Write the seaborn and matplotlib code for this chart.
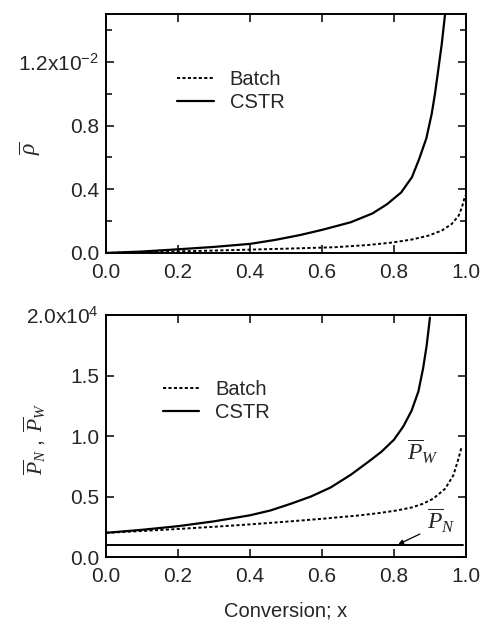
import pandas as pd
import matplotlib
matplotlib.use("Agg")
import matplotlib.pyplot as plt
import seaborn as sns
from matplotlib.ticker import MultipleLocator, FixedLocator, FixedFormatter

# --- values (rho in units of 1e-2, P in units of 1e4) ---
x_rho_cstr = [0.0, 0.1, 0.2, 0.3, 0.4, 0.47, 0.54, 0.6, 0.68, 0.74, 0.78, 0.82, 0.85,
              0.87, 0.89, 0.905, 0.914, 0.923, 0.933, 0.942]
rho_cstr = [0.0, 0.009, 0.023, 0.038, 0.057, 0.082, 0.113, 0.145, 0.193, 0.248, 0.305,
            0.38, 0.476, 0.59, 0.72, 0.875, 1.0, 1.148, 1.316, 1.5]

x_rho_batch = [0.0, 0.1, 0.2, 0.3, 0.4, 0.5, 0.635, 0.728, 0.793, 0.849, 0.896, 0.933,
               0.961, 0.98, 0.989, 0.998]
rho_batch = [0.0, 0.005, 0.01, 0.015, 0.021, 0.027, 0.036, 0.05, 0.065, 0.084, 0.109,
             0.141, 0.183, 0.235, 0.288, 0.361]

x_pw_cstr = [0.0, 0.1, 0.2, 0.3, 0.4, 0.457, 0.513, 0.569, 0.624, 0.68, 0.73, 0.765,
             0.8, 0.826, 0.849, 0.868, 0.881, 0.891, 0.9]
pw_cstr = [0.2, 0.225, 0.255, 0.295, 0.345, 0.385, 0.44, 0.5, 0.575, 0.68, 0.79, 0.87,
           0.97, 1.08, 1.21, 1.37, 1.56, 1.75, 1.98]

x_pw_batch = [0.0, 0.1, 0.2, 0.3, 0.4, 0.5, 0.6, 0.7, 0.76, 0.808, 0.85, 0.88,
              0.909, 0.942, 0.965, 0.979, 0.988]
pw_batch = [0.2, 0.215, 0.232, 0.25, 0.27, 0.292, 0.316, 0.343, 0.364, 0.385, 0.41,
            0.44, 0.482, 0.564, 0.675, 0.81, 0.91]

x_pn = [0.0, 0.992]
pn = [0.1, 0.1]

rho_ticks = [0.0, 0.4, 0.8, 1.2]
rho_labels = ["0.0", "0.4", "0.8", "1.2x10$^{-2}$"]
p_ticks = [0.0, 0.5, 1.0, 1.5, 2.0]
p_labels = ["0.0", "0.5", "1.0", "1.5", "2.0x10$^{4}$"]
x_ticks = [0.0, 0.2, 0.4, 0.6, 0.8, 1.0]

sns.set_style("ticks")
plt.rcParams["font.family"] = ["Liberation Sans", "DejaVu Sans"]
plt.rcParams["mathtext.fontset"] = "custom"
plt.rcParams["mathtext.rm"] = "Liberation Sans"
plt.rcParams["mathtext.it"] = "Liberation Serif:italic"

tick_fs = 15
text_fs = 14.5
dotted = (0, (1.6, 1.2))

fig = plt.figure(figsize=(4.89, 6.2), dpi=100)
ax1 = fig.add_axes([0.2168, 0.592, 0.736, 0.385])
ax2 = fig.add_axes([0.2168, 0.1016, 0.736, 0.390])

# top panel: rho
df_b = pd.DataFrame({"x": x_rho_batch, "y": rho_batch})
df_c = pd.DataFrame({"x": x_rho_cstr, "y": rho_cstr})
sns.lineplot(data=df_b, x="x", y="y", ax=ax1, color="black", lw=1.4, linestyle=dotted,
             label="Batch", sort=False)
sns.lineplot(data=df_c, x="x", y="y", ax=ax1, color="black", lw=1.6, label="CSTR", sort=False)
ax1.set_ylim(0, 1.5)
ax1.yaxis.set_major_locator(FixedLocator(rho_ticks))
ax1.yaxis.set_major_formatter(FixedFormatter(rho_labels))
ax1.yaxis.set_minor_locator(MultipleLocator(0.2))
ax1.set_xlabel("")
ax1.set_ylabel(r"$\overline{\rho}$", fontsize=17)
ax1.yaxis.label.set_va("center")
ax1.yaxis.set_label_coords(-0.211, 0.44)

# bottom panel: P_N, P_W
df_pb = pd.DataFrame({"x": x_pw_batch, "y": pw_batch})
df_pc = pd.DataFrame({"x": x_pw_cstr, "y": pw_cstr})
df_pn = pd.DataFrame({"x": x_pn, "y": pn})
sns.lineplot(data=df_pb, x="x", y="y", ax=ax2, color="black", lw=1.4, linestyle=dotted,
             label="Batch", sort=False)
sns.lineplot(data=df_pc, x="x", y="y", ax=ax2, color="black", lw=1.6, label="CSTR", sort=False)
sns.lineplot(data=df_pn, x="x", y="y", ax=ax2, color="black", lw=1.4, sort=False)
ax2.set_ylim(0, 2.0)
ax2.yaxis.set_major_locator(FixedLocator(p_ticks))
ax2.yaxis.set_major_formatter(FixedFormatter(p_labels))
ax2.set_ylabel(r"$\overline{P}_N\ ,\ \overline{P}_W$", fontsize=15.5)
ax2.yaxis.label.set_va("center")
ax2.yaxis.set_label_coords(-0.199, 0.49)
ax2.set_xlabel("Conversion; x", fontsize=text_fs)
ax2.xaxis.label.set_va("center")
ax2.xaxis.set_label_coords(0.5, -0.225)

ax2.text(0.881, 0.868, r"$\overline{P}_W$", fontsize=17, ha="center", va="center")
ax2.text(0.932, 0.30, r"$\overline{P}_N$", fontsize=17, ha="center", va="center")
ax2.annotate("", xy=(0.812, 0.105), xytext=(0.872, 0.19),
             arrowprops=dict(arrowstyle="-|>", color="black", lw=0.9,
                             mutation_scale=7, shrinkA=0, shrinkB=0))

for ax, leg_pos in ((ax1, (0.17, 0.81)), (ax2, (0.13, 0.773))):
    ax.set_xlim(0, 1.0)
    ax.set_xticks(x_ticks)
    ax.set_xticklabels([f"{t:.1f}" for t in x_ticks])
    ax.tick_params(axis="both", which="both", direction="in", top=True, right=True,
                   labelsize=tick_fs, width=1.1, color="black")
    ax.tick_params(axis="both", which="major", length=6)
    ax.tick_params(axis="x", which="major", pad=7)
    ax.tick_params(axis="y", which="major", pad=5)
    ax.tick_params(axis="both", which="minor", length=4.5)
    for sp in ax.spines.values():
        sp.set_linewidth(1.4)
        sp.set_color("black")
    ax.legend(loc="upper left", bbox_to_anchor=leg_pos, frameon=False, fontsize=text_fs,
              handlelength=1.8, handletextpad=0.8, labelspacing=0.2, borderpad=0)

fig.savefig("out.png", dpi=100)
